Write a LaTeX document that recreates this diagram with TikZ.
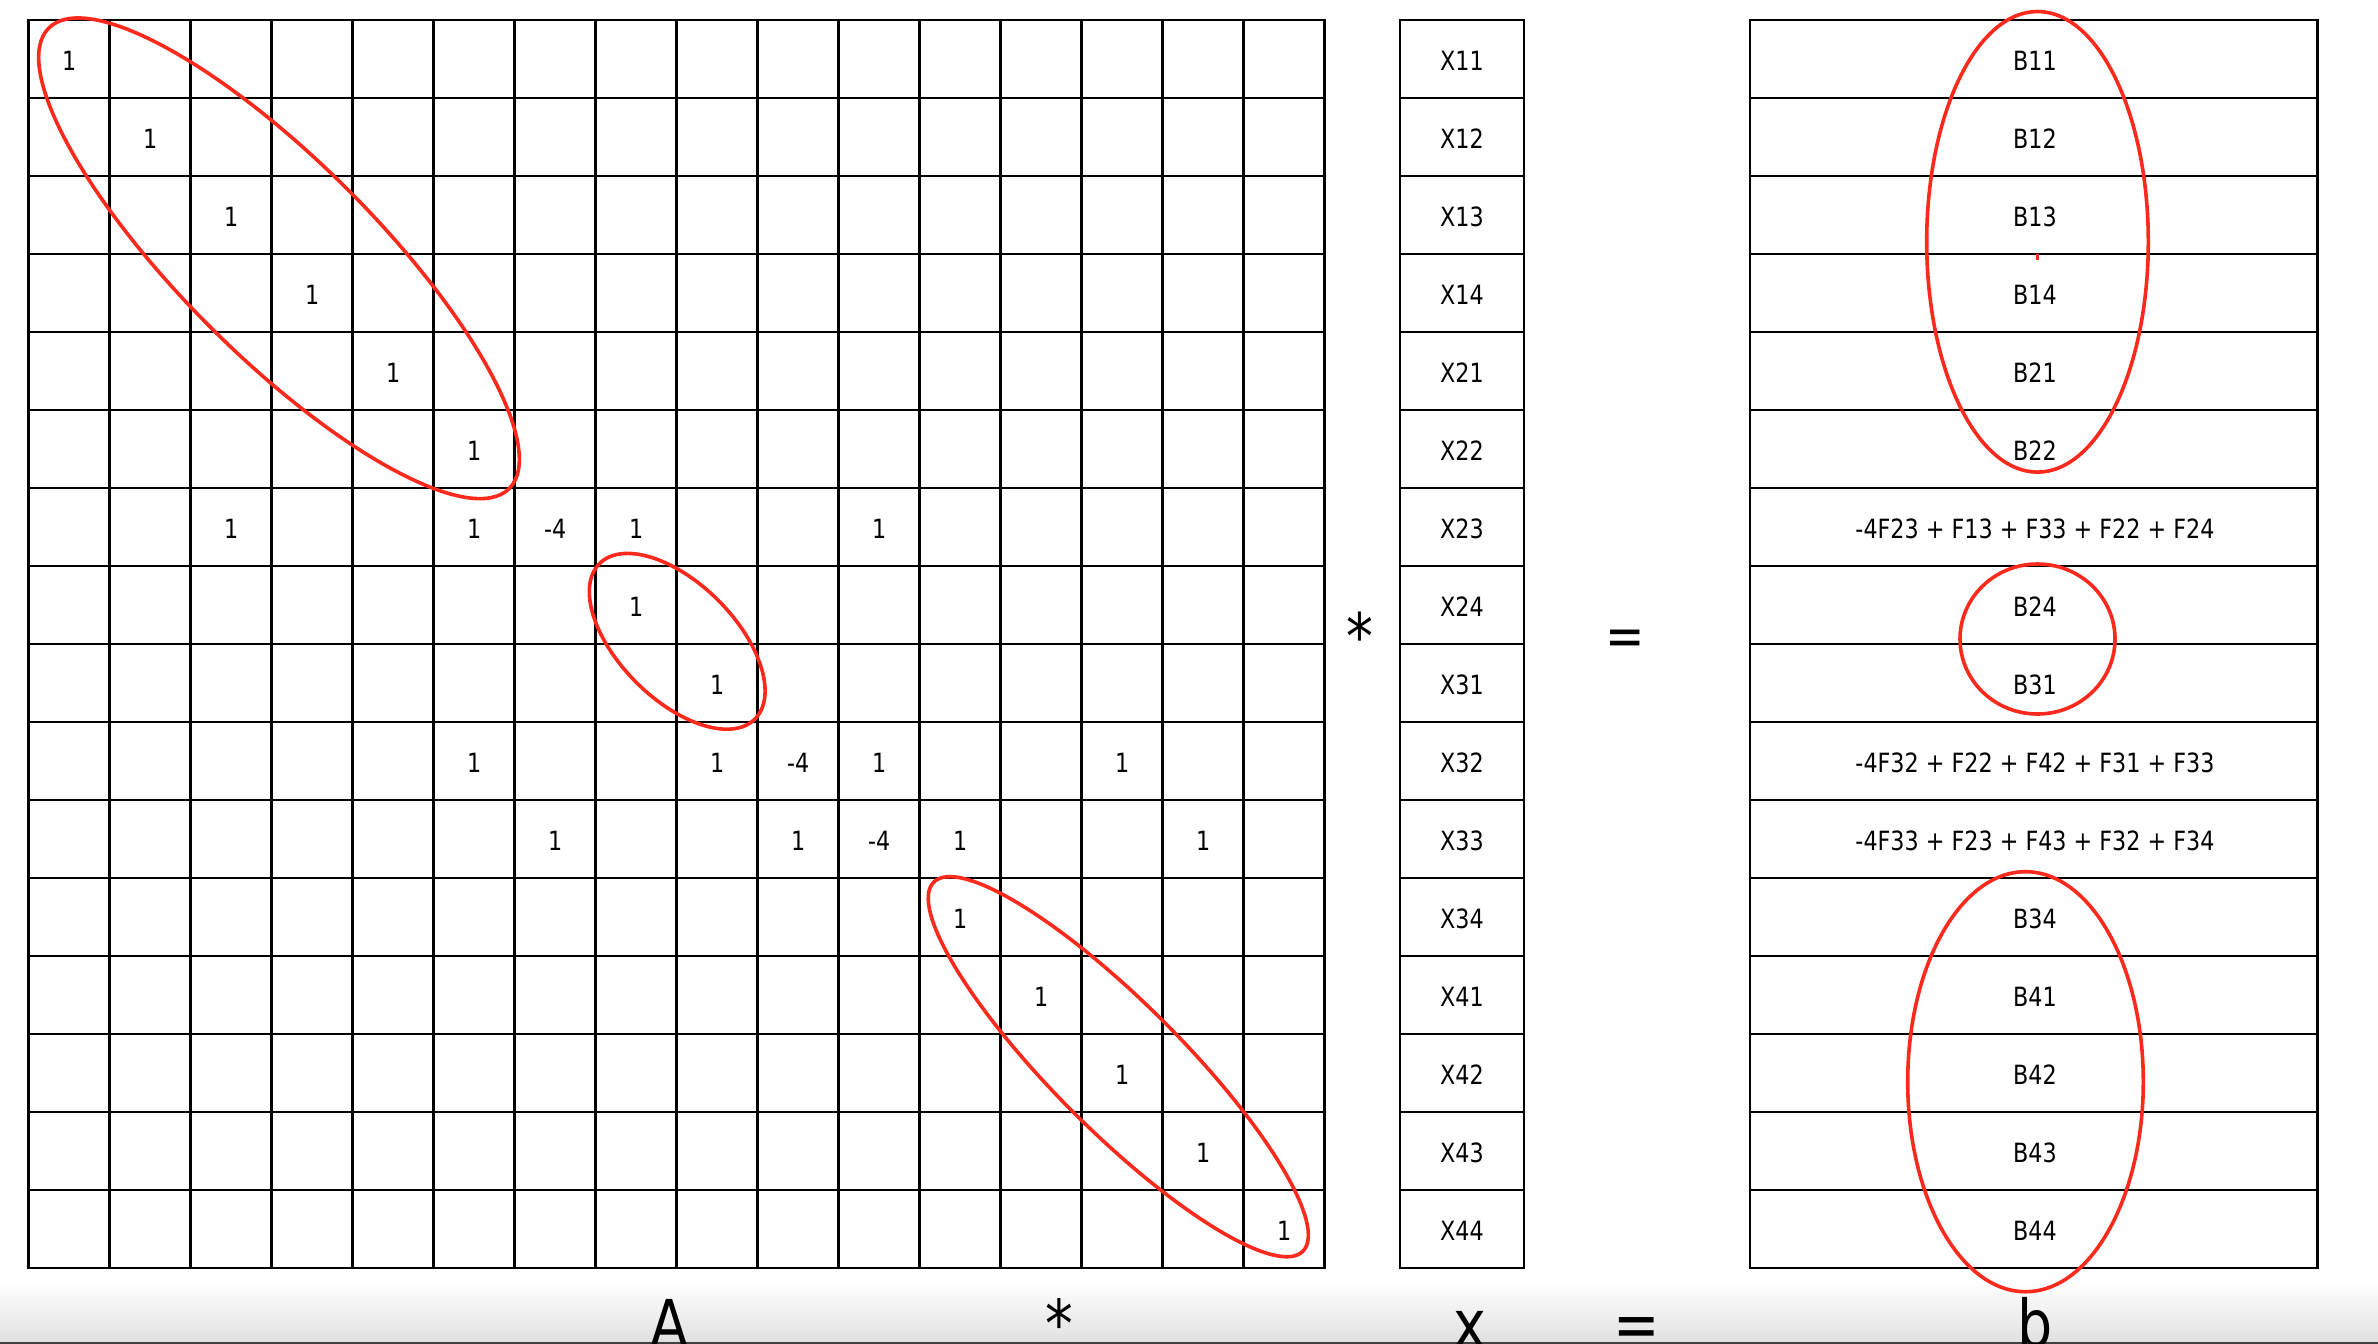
\documentclass[tikz,border=0pt]{standalone}
\usepackage{fontspec}
\newfontfamily\cellfont[FakeStretch=0.84]{DejaVu Sans}
\definecolor{ringred}{RGB}{252,42,28}
\begin{document}
\begin{tikzpicture}[x=0.5pt,y=-0.5pt,
  gridline/.style={line width=1.3pt, line cap=rect},
  ring/.style={draw=ringred, line width=1.8pt},
  celltxt/.style={font=\cellfont\fontsize{13.25pt}{15pt}\selectfont, inner sep=0pt},
  bigstar/.style={font=\cellfont\fontsize{32pt}{34pt}\selectfont, inner sep=0pt},
  bigeq/.style={font=\cellfont\fontsize{28pt}{30pt}\selectfont, inner sep=0pt},
  biglbl/.style={font=\cellfont\fontsize{33pt}{36pt}\selectfont, inner sep=0pt, anchor=base}]
\useasboundingbox (0,0) rectangle (2378,1344);
\fill[white] (0,0) rectangle (2378,1344);
\clip (0,0) rectangle (2378,1344);

% window chrome at the bottom
\shade[top color=white, bottom color=black!12] (0,1282) rectangle (2378,1342);
\fill[black!75] (0,1342) rectangle (2378,1344);

% matrix A grid
\foreach \i in {0,...,16} {
  \draw[gridline] ({28.6+81*\i},20) -- ({28.6+81*\i},1268);
  \draw[gridline] (28.6,{20+78*\i}) -- (1324.6,{20+78*\i});
}
% vector x column
\draw[gridline] (1400,20) -- (1400,1268);
\draw[gridline] (1524,20) -- (1524,1268);
% vector b column
\draw[gridline] (1750,20) -- (1750,1268);
\draw[gridline] (2317.5,20) -- (2317.5,1268);
\foreach \i in {0,...,16} {
  \draw[gridline] (1400,{20+78*\i}) -- (1524,{20+78*\i});
  \draw[gridline] (1750,{20+78*\i}) -- (2317.5,{20+78*\i});
}

% entries of A
\foreach \r/\c/\t in {0/0/1,1/1/1,2/2/1,3/3/1,4/4/1,5/5/1,
  6/2/1,6/5/1,6/6/-4,6/7/1,6/10/1,
  7/7/1,8/8/1,
  9/5/1,9/8/1,9/9/-4,9/10/1,9/13/1,
  10/6/1,10/9/1,10/10/-4,10/11/1,10/14/1,
  11/11/1,12/12/1,13/13/1,14/14/1,15/15/1}
  \node[celltxt] (a-\r-\c) at ({69.1+81*\c},{61+78*\r}) {\t};

% entries of x
\foreach \t [count=\k from 0] in {X11,X12,X13,X14,X21,X22,X23,X24,X31,X32,X33,X34,X41,X42,X43,X44}
  \node[celltxt] (x-\k) at (1462,{61+78*\k}) {\t};

% entries of b
\foreach \t [count=\k from 0] in {B11,B12,B13,B14,B21,B22,
  -4F23 + F13 + F33 + F22 + F24,B24,B31,
  -4F32 + F22 + F42 + F31 + F33,
  -4F33 + F23 + F43 + F32 + F34,
  B34,B41,B42,B43,B44}
  \node[celltxt] (b-\k) at (2035,{61+78*\k}) {\t};

% operators between the blocks
\node[bigstar] (times) at (1360,636) {*};
\node[bigeq] (equals) at (1625,643) {=};

% red rings
\draw[ring, shift={(279,258.3)}, rotate=-45] (0,0) ellipse [x radius=162.8pt, y radius=48.6pt];
\draw[ring, shift={(677.2,641.3)}, rotate=-45] (0,0) ellipse [x radius=54.95pt, y radius=29pt];
\draw[ring, shift={(1118.3,1066.7)}, rotate=-45] (0,0) ellipse [x radius=130.5pt, y radius=32pt];
\draw[ring] (2037.5,241.8) ellipse [x radius=55.4pt, y radius=115.15pt];
\draw[ring] (2037.5,639) ellipse [x radius=38.75pt, y radius=37.5pt];
\draw[ring] (2025.5,1081.7) ellipse [x radius=58.9pt, y radius=105pt];
\draw[draw=ringred, line width=1.5pt] (2037,254) -- (2037,260);

% labels under the blocks
\node[biglbl] (labA) at (669,1347) {A};
\node[biglbl] (labT) at (1059,1347) {*};
\node[biglbl] (labX) at (1470,1347) {x};
\node[biglbl] (labE) at (1637,1347) {=};
\node[biglbl] (labB) at (2035,1347) {b};
\end{tikzpicture}
\end{document}
